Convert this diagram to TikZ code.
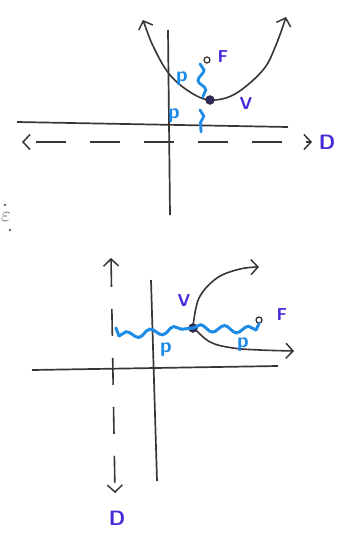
\documentclass[tikz,border=0pt]{standalone}
\usetikzlibrary{arrows.meta,decorations.pathmorphing}
\definecolor{ink}{RGB}{58,52,52}
\definecolor{pblue}{RGB}{30,140,230}
\definecolor{lbl}{RGB}{75,40,215}
\definecolor{smudge}{RGB}{100,95,95}
\begin{document}
\begin{tikzpicture}[x=1pt,y=-1pt,
  axis/.style={draw=ink,line width=1.7pt},
  barb/.tip={Straight Barb[length=7pt,width=15pt,line width=1.5pt]},
  curve/.style={draw=ink,line width=1.6pt,barb-barb},
  dir/.style={draw=ink,line width=1.6pt,dash pattern=on 30pt off 24pt,barb-barb},
  wave/.style={draw=pblue,line width=3pt,line cap=round,decorate,decoration={snake,amplitude=3.5pt,segment length=24pt}},
  brace/.style={draw=pblue,line width=2.8pt,line cap=round,decorate,decoration={snake,amplitude=3.5pt,segment length=20pt}},
  lab/.style={text=lbl,font=\sffamily\bfseries\LARGE,inner sep=0pt},
  plab/.style={text=pblue,font=\sffamily\bfseries\huge,inner sep=0pt},
  focus/.style={circle,draw=ink,fill=white,line width=1.3pt,inner sep=0pt,minimum size=6pt},
  vert/.style={circle,draw=ink,fill=ink!80!blue,inner sep=0pt,minimum size=9pt},
  ]
\useasboundingbox (0,0) rectangle (352,539);

% ---------- top figure ----------
\coordinate (tyT) at (168,30);
\coordinate (tyB) at (170,215);
\coordinate (txL) at (17,122);
\coordinate (txR) at (288,127);
\draw[axis] (tyT) -- (tyB);
\draw[axis] (txL) -- (txR);
\coordinate (tdL) at (22,142);
\coordinate (tdR) at (312,142);
\draw[dir,dash phase=-12pt] (tdL) -- (tdR);
\node[lab,font=\sffamily\bfseries\huge] (tD) at (327,142) {D};

\coordinate (tpL) at (143,20);
\coordinate (tpR) at (286,17);
\draw[curve] plot[smooth,tension=0.6] coordinates {(tpL) (155,50) (170,75) (190,92) (210,100) (235,94) (263,70) (276,45) (tpR)};
\node[vert] (tV) at (210,100) {};
\node[lab] (tVl) at (246,103) {V};
\node[focus] (tF) at (207,60) {};
\node[lab] (tFl) at (223,57) {F};
\coordinate (tb1a) at (200,64);
\coordinate (tb1b) at (203,97);
\draw[brace] (tb1a) -- (tb1b);
\coordinate (tb2a) at (200,110);
\coordinate (tb2b) at (201,132);
\draw[brace] (tb2a) -- (tb2b);
\node[plab] (tp1) at (182,79) {p};
\node[plab] (tp2) at (174,116) {p};

% stray mark
\node[text=smudge,inner sep=0pt,font=\huge] (eps) at (6,217) {$\varepsilon$};
\fill[smudge] (5,205) circle (1.4pt);
\fill[smudge] (10,230) circle (1.4pt);

% ---------- bottom figure ----------
\coordinate (byT) at (151,280);
\coordinate (byB) at (157,481);
\coordinate (bxL) at (32,370);
\coordinate (bxR) at (278,366);
\draw[axis] (byT) -- (byB);
\draw[axis] (bxL) -- (bxR);
\coordinate (bdT) at (111,258);
\coordinate (bdB) at (115,493);
\draw[dir,dash pattern=on 27pt off 22pt] (bdT) -- (bdB);
\node[lab,font=\sffamily\bfseries\huge] (bD) at (117,518) {D};

\coordinate (bpU) at (259,267);
\coordinate (bpD) at (294,351);
\draw[curve,-barb] plot[smooth,tension=0.6] coordinates {(193,327) (199,298) (217,278) (240,269) (bpU)};
\draw[curve,-barb] plot[smooth,tension=0.6] coordinates {(193,327) (210,342) (233,348) (260,350) (bpD)};

\coordinate (bw0) at (116,328);
\coordinate (bw1) at (119,336);
\coordinate (bw2) at (256,330);
\draw[draw=pblue,line width=3pt,line cap=round] (bw0) -- (bw1);
\node[vert] (bV) at (193,328) {};
\draw[wave] (bw1) -- (bV.center);
\draw[wave] (bV.center) -- (bw2);
\node[focus] (bF) at (259,320) {};
\draw[draw=pblue,line width=3pt,line cap=round] (bw2) -- (bF.south);
\node[lab] (bVl) at (184,300) {V};
\node[lab] (bFl) at (282,315) {F};
\node[plab] (bp1) at (166,350) {p};
\node[plab] (bp2) at (243,345) {p};
\end{tikzpicture}
\end{document}
